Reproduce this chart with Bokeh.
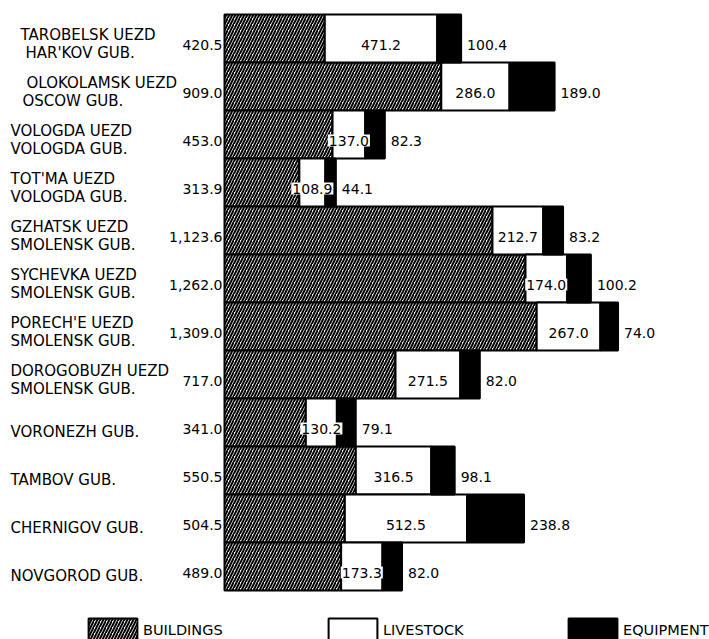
from bokeh.plotting import figure
from bokeh.models import ColumnDataSource, Range1d, Legend, LegendItem
from bokeh.core.properties import value
from bokeh.embed import file_html
from bokeh.resources import INLINE

# ---- data ----
region_line1 = ["TAROBELSK UEZD", "OLOKOLAMSK UEZD", "VOLOGDA UEZD", "TOT'MA UEZD",
                "GZHATSK UEZD", "SYCHEVKA UEZD", "PORECH'E UEZD", "DOROGOBUZH UEZD",
                "VORONEZH GUB.", "TAMBOV GUB.", "CHERNIGOV GUB.", "NOVGOROD GUB."]
region_line2 = ["HAR'KOV GUB.", "OSCOW GUB.", "VOLOGDA GUB.", "VOLOGDA GUB.",
                "SMOLENSK GUB.", "SMOLENSK GUB.", "SMOLENSK GUB.", "SMOLENSK GUB.",
                "", "", "", ""]
buildings = [420.5, 909.0, 453.0, 313.9, 1123.6, 1262.0, 1309.0, 717.0, 341.0, 550.5, 504.5, 489.0]
livestock = [471.2, 286.0, 137.0, 108.9, 212.7, 174.0, 267.0, 271.5, 130.2, 316.5, 512.5, 173.3]
equipment = [100.4, 189.0, 82.3, 44.1, 83.2, 100.2, 74.0, 82.0, 79.1, 98.1, 238.8, 82.0]
series_names = ["BUILDINGS", "LIVESTOCK", "EQUIPMENT"]

W, H = 709, 639
PX = 0.2385            # pixels per unit
BAR_LEFT = 224         # canvas px where bars start
ROW_H = 48
TOP0 = 38              # canvas y of first row centre

x0 = -BAR_LEFT / PX
xr = Range1d(x0, x0 + W / PX)
e = -TOP0 / ROW_H
s = e + H / ROW_H
yr = Range1d(s, e)

n = len(buildings)
rows = list(range(n))
b_end = [b for b in buildings]
l_end = [b + l for b, l in zip(buildings, livestock)]
e_end = [b + l + q for b, l, q in zip(buildings, livestock, equipment)]

src = ColumnDataSource(dict(
    y=rows, b0=[0] * n, b1=b_end, l1=l_end, e1=e_end,
    lmid=[b + l / 2 for b, l in zip(buildings, livestock)],
    btxt=[f"{v:,.1f}" for v in buildings],
    ltxt=[f"{v:,.1f}" for v in livestock],
    etxt=[f"{v:,.1f}" for v in equipment],
))

p = figure(width=W, height=H, x_range=xr, y_range=yr, output_backend="svg",
           toolbar_location=None, x_axis_location=None, y_axis_location=None,
           min_border=0, min_border_left=0, min_border_right=0,
           min_border_top=0, min_border_bottom=0)
p.grid.visible = False
p.outline_line_color = None
p.background_fill_color = "white"
p.border_fill_color = "white"

r_b = p.hbar(y="y", left="b0", right="b1", height=1.0, source=src,
             fill_color="white", hatch_pattern="/", hatch_color="black",
             hatch_scale=6, hatch_weight=2, line_color="black", line_width=2)
r_l = p.hbar(y="y", left="b1", right="l1", height=1.0, source=src,
             fill_color="white", line_color="black", line_width=2)
r_e = p.hbar(y="y", left="l1", right="e1", height=1.0, source=src,
             fill_color="black", line_color="black", line_width=2)

FONT = value("DejaVu Sans")
NUM = "14px"
LAB = "15px"

# building values, right aligned before bar
p.text(x="b0", y="y", text="btxt", source=src, text_align="right", text_baseline="middle",
       x_offset=-2, y_offset=6, text_font=FONT, text_font_size=NUM, text_color="black")
# livestock values, centred in white segment with white background
p.text(x="lmid", y="y", text="ltxt", source=src, text_align="center", text_baseline="middle",
       y_offset=6, text_font=FONT, text_font_size=NUM, text_color="black",
       background_fill_color="white", padding=1)
# equipment values right of bar
p.text(x="e1", y="y", text="etxt", source=src, text_align="left", text_baseline="middle",
       x_offset=6, y_offset=6, text_font=FONT, text_font_size=NUM, text_color="black")

# region labels
indent1 = [20, 26] + [10] * (n - 2)
indent2 = [25, 22] + [10] * (n - 2)
two = [i for i in rows if region_line2[i]]
one = [i for i in rows if not region_line2[i]]
lab_a = ColumnDataSource(dict(x=[x0] * len(two), y=two,
                              t=[region_line1[i] for i in two],
                              xo=[indent1[i] for i in two]))
lab_b = ColumnDataSource(dict(x=[x0] * len(two), y=two,
                              t=[region_line2[i] for i in two],
                              xo=[indent2[i] for i in two]))
lab_c = ColumnDataSource(dict(x=[x0] * len(one), y=one,
                              t=[region_line1[i] for i in one],
                              xo=[indent1[i] for i in one]))
for srcl, yo in ((lab_a, -4), (lab_b, 14), (lab_c, 9)):
    p.text(x="x", y="y", text="t", source=srcl, x_offset="xo", y_offset=yo,
           text_align="left", text_baseline="middle", text_font=FONT,
           text_font_size=LAB, text_color="black")

# legends (legend swatches are inset by 10% of the glyph box)
for rend, name, xloc in ((r_b, series_names[0], 82), (r_l, series_names[1], 322),
                         (r_e, series_names[2], 562)):
    leg = Legend(items=[LegendItem(label=name, renderers=[rend])], location=(xloc, -6),
                 orientation="horizontal", glyph_width=61, glyph_height=30,
                 label_standoff=0, padding=0, margin=0, spacing=0,
                 border_line_color=None, background_fill_alpha=0,
                 label_text_font="DejaVu Sans", label_text_font_size="14.5px",
                 label_text_color="black", label_height=30)
    p.add_layout(leg)

open("out.html", "w").write(file_html(p, INLINE))
